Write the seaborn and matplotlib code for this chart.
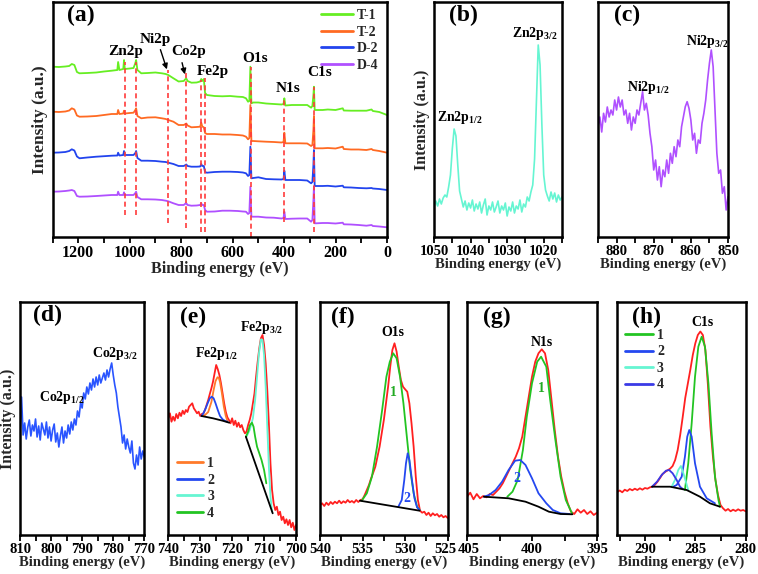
import numpy as np
import seaborn as sns
import matplotlib
matplotlib.use("Agg")
import matplotlib.pyplot as plt
from matplotlib.ticker import MultipleLocator
from matplotlib.transforms import ScaledTranslation

# ---------------- data ----------------
# (a) survey spectra, binding energy in eV, intensity in a.u. (offset stacks)
survey_be = [1300, 1275, 1250, 1235, 1225, 1215, 1205, 1195, 1165, 1130,
             1100, 1070, 1048, 1045, 1040, 1025, 1022, 1019, 1000, 985,
             978, 975, 970, 955, 930, 900, 875, 860, 850, 830,
             810, 790, 783, 780, 775, 760, 740, 726, 722, 718,
             712, 707, 700, 670, 640, 610, 580, 560, 548, 540,
             535, 531, 527, 520, 500, 470, 440, 410, 402, 399,
             395, 370, 340, 310, 295, 290, 286, 284, 281, 275,
             250, 230, 200, 172, 168, 140, 110, 80, 60, 55,
             30, 0]
t1 = [170.3, 170, 170.5, 171, 173, 172, 165, 163.7, 164, 164.5,
      165.5, 166.3, 167, 175, 167, 168, 177, 168, 168.5, 169,
      174, 177, 167, 163.7, 164, 164.5, 163.7, 163, 162, 158.7,
      155.5, 156, 158, 158.5, 156, 154.3, 154.5, 155.5, 158, 156,
      158, 144, 142, 141, 140.7, 141, 140.3, 140, 138.7, 135.3,
      136, 170.3, 133.7, 134.5, 134.5, 133.5, 133, 132.5, 133, 138.7,
      131.5, 132, 132, 132, 129.3, 131, 142, 150.3, 127, 127,
      127, 127.5, 127, 128.7, 126.5, 126.3, 126.3, 126.3, 127.5, 126,
      125, 122]
t2 = [125.3, 125, 125.5, 126.5, 128.7, 127.5, 121.5, 120.3, 120.5, 121,
      122, 123, 123, 127, 123, 123.5, 126.3, 123.5, 124, 124.3,
      127, 128.7, 121, 118.7, 119.5, 119.7, 118.7, 118, 117, 115.3,
      112, 112, 113, 113.5, 111.5, 109.7, 110, 110.3, 114.3, 110.5,
      109.7, 104, 103, 103, 102.5, 102.5, 102, 101.5, 100.3, 97.7,
      99, 132, 96, 96, 95.7, 95.3, 95, 94.5, 95, 104.3,
      93.7, 93.7, 93.7, 93.5, 91, 92, 107, 121, 88.7, 88.7,
      88.7, 89, 88.5, 90.3, 88, 87.5, 87.5, 87, 88, 87,
      86, 84.3]
d2 = [84.3, 84.5, 85, 86, 87.7, 86.5, 80.5, 78.7, 79.5, 80.3,
      80.8, 81.3, 81.5, 84.3, 81.5, 82, 86, 82, 82, 82,
      84, 86, 79, 76.3, 76.3, 76, 75.3, 75, 74.3, 73,
      71, 71, 72, 72.5, 71, 70.3, 70.3, 70.5, 73, 71,
      71, 65, 64.3, 65, 65.3, 65.3, 65, 64.5, 63.7, 61,
      62, 90.3, 58.7, 59, 59.7, 58, 57.7, 57.5, 58, 66.3,
      57, 57, 57, 56.5, 53.7, 55, 72, 87, 51, 51,
      51, 51.2, 50.5, 51.3, 49.7, 49.5, 49, 48.7, 49, 48.5,
      48, 47]
d4 = [45.3, 45.5, 46, 46.5, 47, 46, 41, 40.3, 40.5, 41,
      41.5, 42, 42, 45.3, 42, 42, 44.7, 42, 42, 42,
      44, 45.3, 40, 37.7, 37.7, 37.5, 37, 36.3, 35.7, 33.7,
      32, 32, 33.5, 33.7, 32, 31.3, 31.5, 32, 33.7, 32,
      32, 27, 25.3, 25.5, 26.3, 26.3, 26, 25.5, 25.3, 23,
      24, 50.3, 20.3, 20.3, 20.3, 19.5, 19.3, 18.5, 19, 25.3,
      18, 18.3, 18.5, 18.5, 15.3, 17, 37, 50.3, 13.7, 13.7,
      14, 14, 13.5, 14.3, 12.7, 12.5, 12, 11.3, 12, 11,
      10.5, 9.7]
samples = ["T-1", "T-2", "D-2", "D-4"]

# dashed marker lines in (a)
marker_be = [1020, 975, 852, 780, 724, 709, 530, 400, 283]
marker_top = [175, 175, 167, 164, 157, 159, 170, 139, 150]
marker_bottom = [22, 22, 14, 9, 5, 5, 0, 15, 5]
element_names = ["Zn2p", "Ni2p", "Co2p", "Fe2p", "O1s", "N1s", "C1s"]
element_be = [1014, 900, 771, 676, 514, 384, 263]
element_y = [185, 197, 185, 166, 178, 148, 164]

# (b) Zn 2p, 1050 -> 1015 eV
zn_range = (1050, 1015)
zn = [30, 36, 31, 38, 33, 39, 42, 40, 50, 62, 88, 108, 101, 72, 46, 38, 30, 36, 27, 34,
      29, 37, 26, 33, 28, 35, 24, 32, 38, 22, 31, 27, 35, 25, 30, 36, 24, 31, 27, 34,
      21, 30, 26, 35, 24, 31, 28, 37, 25, 33, 30, 40, 36, 45, 52, 78, 135, 192, 172, 112,
      62, 47, 41, 36, 45, 38, 44, 35, 42, 37, 40]

# (c) Ni 2p, 885 -> 850 eV
ni_range = (885, 850)
ni = [110.3, 120, 105, 123.7, 115, 130, 120, 127, 122, 137, 127, 140, 130, 137, 122, 127,
      113.7, 123.7, 107, 120, 113.7, 127, 122, 133.7, 145.3, 127, 133.7, 122, 103.7, 90.3,
      67, 77, 57, 70.3, 50.3, 67, 60.3, 77, 63.7, 83.7, 73.7, 90.3, 80.3, 97, 90.3, 110.3,
      120.3, 130.3, 135.3, 128.7, 117, 97, 103.7, 83.7, 97, 93.7, 113.7, 123.7, 137, 157,
      173.7, 187, 170.3, 127, 83.7, 63.7, 67, 43.7, 50.3, 27, 40.3]

# (d) Co 2p, 810 -> 770 eV
co_range = (810, 770)
co = [103, 138, 100, 112, 96, 108, 115, 99, 110, 104, 116, 98, 109, 95, 112, 106, 100, 113,
      97, 108, 94, 105, 111, 93, 102, 88, 99, 108, 92, 104, 97, 110, 101, 113, 105, 116,
      110, 124, 118, 132, 127, 142, 136, 148, 141, 152, 145, 156, 148, 158, 150, 160, 152,
      157, 162, 155, 165, 158, 166, 172, 160, 150, 142, 128, 118, 108, 92, 100, 86, 96, 88,
      82, 94, 72, 66, 80, 70, 88, 76, 84, 78]

# (e) Fe 2p, 740 -> 700 eV, with fitted components
fe_range = (740, 700)
fe = [116.7, 121.7, 113.3, 118.3, 114.3, 121, 116.7, 122.3, 119, 124.3, 121, 125, 123,
      128.3, 130, 131.7, 126.7, 124.3, 121.7, 123.3, 119, 121, 121.7, 125, 130, 135, 141,
      146.7, 153.3, 161.7, 170, 165.7, 160, 151.7, 141.7, 131.7, 123.3, 117.7, 115, 111.7,
      116.7, 110, 114.3, 108.3, 112.3, 107.7, 110, 105, 101.7, 103.3, 110, 115, 121.7,
      131.7, 141.7, 158.3, 173.3, 186.7, 196.7, 200, 190, 171.7, 145, 111.7, 71.7, 45,
      31.7, 25, 28.3, 20, 23.3, 15, 18.3, 11.7, 15.7, 10, 15, 7.7, 12.3, 5, 10]
fe1_be = [729.5, 728.5, 727.5, 726.5, 725.8, 725.2, 724.6, 724.2, 723.8, 723.2, 722.6, 722.0, 721.5]
fe1 = [119, 120, 123, 133, 145, 154, 157.7, 157.3, 153, 141.7, 128.3, 119, 114.3]
fe2_be = [729.6, 729.0, 728.3, 727.6, 727.0, 726.4, 725.8, 725.2, 724.5, 723.8, 723.0, 722.2, 721.5]
fe2 = [119, 121.7, 126.7, 132.3, 136.7, 138.3, 136.7, 131.7, 125, 119, 115.7, 114, 113.3]
fe3_be = [715.5, 714.5, 713.5, 712.8, 712.2, 711.6, 711.0, 710.5, 710.0, 709.5, 709.0, 708.5, 708.0, 707.5]
fe3 = [98.3, 105, 116.7, 135, 158.3, 181.7, 195.7, 195, 180, 148.3, 108.3, 68.3, 38.3, 23.3]
fe4_be = [715.7, 715.0, 714.4, 713.8, 713.3, 712.8, 712.2, 711.5, 710.8, 710.0, 709.3]
fe4 = [98.3, 103.3, 110, 112.3, 108.3, 98.3, 88.3, 81.7, 75, 65, 51.7]
fe_bg1_be = [729.6, 726, 723, 720.9]
fe_bg1 = [119, 116.7, 114.3, 112.3]
fe_bg2_be = [715.7, 707.3]
fe_bg2 = [98.3, 21.7]

# (f) O 1s, 540 -> 525 eV
o_range = (540, 525)
o = [30, 31.7, 29, 32.3, 30, 33, 31, 33.3, 31.7, 34.3, 31.7, 33.7, 32.3, 35, 32.7, 34,
     32.3, 35, 33, 35, 35.7, 40, 45, 50, 56.7, 62.3, 68.3, 78.3, 88.3, 101.7, 115, 131.7,
     148.3, 168.3, 185, 191.7, 183.3, 168.3, 155, 148.3, 145.7, 143.3, 131.7, 111.7, 88.3,
     58.3, 35, 24.3, 22.3, 23.3, 20, 22.3, 19, 21.7, 19.7, 21, 18.3, 20, 17.7, 19, 17]
o1_be = [535.1, 534.5, 533.9, 533.3, 532.7, 532.2, 531.8, 531.4, 531.0, 530.6, 530.2, 529.8, 529.4, 529.0, 528.6, 528.3]
o1 = [34.3, 41.7, 58.3, 88.3, 125, 158.3, 173.3, 181.7, 176.7, 158.3, 131.7, 98.3, 65, 41.7, 28.3, 25]
o2_be = [530.8, 530.4, 530.1, 529.9, 529.7, 529.5, 529.2, 528.9, 528.6, 528.3]
o2 = [28.3, 35, 55, 71.7, 81.7, 75, 55, 36.7, 27.7, 25]
o_bg_be = [535.3, 528.3]
o_bg = [34.3, 24.3]

# (g) N 1s, 405 -> 395 eV
n_range = (405, 395)
n = [38.3, 42.3, 35.7, 41, 36.7, 39, 37.7, 41, 40, 43.3, 46.7, 51.7, 58.3, 65, 71.7, 78.3,
     86.7, 98.3, 118.3, 138.3, 158.3, 173.3, 181.7, 185.7, 181.7, 165, 135, 105, 78.3,
     58.3, 43.3, 31.7, 23.3, 21, 25.7, 22.3, 25, 21, 23.7, 20, 22.3]
n1_be = [401.9, 401.5, 401.1, 400.7, 400.4, 400.0, 399.6, 399.3, 398.9, 398.6, 398.2, 397.8, 397.4, 396.9]
n1 = [38.3, 43.3, 55, 85, 118.3, 151.7, 173.3, 178.3, 168.3, 135, 95, 58.3, 35, 21]
n2_be = [403.7, 403.3, 402.8, 402.3, 401.8, 401.3, 400.9, 400.5, 400.0, 399.5, 398.9, 398.4, 397.8, 397.1]
n2 = [38.3, 40, 45, 53.3, 65, 74.3, 75, 70, 56.7, 41.7, 31.7, 25, 21.7, 21]
n_bg_be = [403.7, 401.8, 400.5, 399.5, 398.7, 397.8, 396.9]
n_bg = [38.3, 36.7, 33.3, 28.3, 23.3, 21, 20.7]

# (h) C 1s, 292.75 -> 280 eV
c_range = (292.75, 280)
c = [43, 44.5, 42.7, 45.3, 44, 46, 44.7, 46.3, 45, 46.7, 45.3, 47, 46.3, 47.7, 48.3, 50.3,
     53.3, 57, 61, 63, 64.7, 66.3, 69, 75, 85, 100, 118, 137, 151, 165, 180, 191.7, 200,
     203.5, 200, 185, 150, 108, 78, 55, 40, 30, 26.7, 24.3, 26, 23.7, 25.3, 24, 25.7,
     24.3, 25, 23.7]
c1_be = [286.03, 285.7, 285.36, 285.03, 284.7, 284.37, 284.04, 283.7, 283.38, 283.05, 282.7, 282.55]
c1 = [45, 71.7, 111.7, 158.3, 188.3, 198.3, 188.3, 151.7, 101.7, 58.3, 35, 28.3]
c2_be = [287.19, 286.85, 286.35, 286.03, 285.8, 285.6, 285.36, 285.03, 284.54, 283.87, 283.05]
c2 = [48.3, 50, 58.3, 78.3, 98.3, 105, 98.3, 71.7, 48.3, 36.7, 31.7]
c3_be = [287.35, 287.02, 286.69, 286.43, 286.13, 285.7]
c3 = [48.3, 55, 65, 69, 60, 45]
c4_be = [289.3, 288.8, 288.34, 287.91, 287.6, 287.25, 286.85, 286.52, 286.2]
c4 = [48.3, 53.3, 60, 64.3, 65, 61.7, 55, 48.3, 45.7]
c_bg_be = [289.3, 287.5, 285.86, 284.54, 283.55, 282.55]
c_bg = [48.3, 48.3, 45, 38.3, 31.7, 28.3]

# ---------------- style ----------------
sns.set_theme(style="ticks")
plt.rcParams["font.family"] = ["Liberation Serif", "DejaVu Serif"]
plt.rcParams["font.weight"] = "bold"
plt.rcParams["axes.labelweight"] = "bold"
plt.rcParams["mathtext.fontset"] = "custom"
plt.rcParams["mathtext.rm"] = "Liberation Serif:bold"
plt.rcParams["mathtext.it"] = "Liberation Serif:bold"
plt.rcParams["mathtext.bf"] = "Liberation Serif:bold"

RED = "#ff2020"
sample_colors = ["#66ee22", "#ff6a22", "#2244ee", "#b050ff"]

W, H = 758, 574
fig = plt.figure(figsize=(W / 100, H / 100), dpi=100)


def panel(left, right, top, bottom):
    return fig.add_axes([left / W, 1 - bottom / H, (right - left) / W, (bottom - top) / H])


def trace(ax, x, y, color, lw=1.3, label=None):
    sns.lineplot(x=x, y=y, ax=ax, color=color, lw=lw, estimator=None,
                 sort=False, label=label, legend=False)


def grid(rng, vals):
    return np.linspace(rng[0], rng[1], len(vals))


def dress(ax, xlim, ylim, major, minor, tick_fs=10.5, label_fs=10.5, ylabel=False):
    ax.set_xlim(xlim)
    ax.set_ylim(ylim)
    ax.xaxis.set_major_locator(MultipleLocator(major))
    ax.xaxis.set_minor_locator(MultipleLocator(minor))
    ax.set_yticks([])
    ax.tick_params(axis="x", which="both", direction="out", length=4, width=1.3,
                   labelsize=tick_fs, pad=1.5, colors="black")
    for sp in ax.spines.values():
        sp.set_visible(True)
        sp.set_linewidth(1.8)
        sp.set_color("black")
    ax.set_xlabel("Binding energy (eV)", fontsize=label_fs, labelpad=0)
    if ylabel:
        ax.set_ylabel("Intensity (a.u.)", fontsize=label_fs + 1, labelpad=3)
    else:
        ax.set_ylabel("")


def label(ax, x, y, s, fs=10, color="black"):
    ax.text(x, y, s, fontsize=fs, color=color, ha="center", va="center", fontweight="bold")


# ---------------- (a) survey ----------------
ax = panel(52.5, 387, 2, 237)
for vals, name, col in zip([t1, t2, d2, d4], samples, sample_colors):
    trace(ax, survey_be, vals, col, lw=1.3, label=name)
ax.vlines(marker_be, marker_bottom, marker_top, colors="#ff3b3b",
          linestyles=(0, (3, 2)), lw=1.2)
leg = ax.legend(loc="upper right", bbox_to_anchor=(1.0, 1.005), frameon=False, fontsize=10,
                handlelength=2.3, handletextpad=0.3, labelspacing=0.25, borderaxespad=0.2)
for ln in leg.get_lines():
    ln.set_linewidth(2)
for nm, bx, by in zip(element_names, element_be, element_y):
    label(ax, bx, by, nm, fs=11)
ax.annotate("", xy=(852, 165), xytext=(884, 190),
            arrowprops=dict(arrowstyle="-|>", color="black", lw=1, mutation_scale=8))
ax.annotate("", xy=(783, 160), xytext=(799, 177),
            arrowprops=dict(arrowstyle="-|>", color="black", lw=1, mutation_scale=8))
label(ax, 1190, 222, "(a)", fs=17)
dress(ax, (1300, 0), (0, 235), 200, 100, tick_fs=11.5, label_fs=11.5, ylabel=True)

# ---------------- (b) Zn 2p ----------------
ax = panel(434, 562, 2, 237)
trace(ax, grid(zn_range, zn), zn, "#66f5d2", lw=1.2)
label(ax, 1022.4, 204, "Zn2p$_{3/2}$")
label(ax, 1042.9, 119, "Zn2p$_{1/2}$")
label(ax, 1042, 222, "(b)", fs=17)
dress(ax, zn_range, (0, 235), 10, 5, ylabel=True)

# ---------------- (c) Ni 2p ----------------
ax = panel(598, 728, 2, 237)
trace(ax, grid(ni_range, ni), ni, "#b050ff", lw=1.2)
label(ax, 855.7, 195, "Ni2p$_{3/2}$")
label(ax, 871.5, 149, "Ni2p$_{1/2}$")
label(ax, 877.2, 222, "(c)", fs=17)
dress(ax, ni_range, (0, 235), 10, 5)

# ---------------- (d) Co 2p ----------------
ax = panel(20, 144.3, 302, 535)
trace(ax, grid(co_range, co), co, "#2a55ff", lw=1.2)
label(ax, 779.4, 182, "Co2p$_{3/2}$")
label(ax, 796.5, 137, "Co2p$_{1/2}$")
label(ax, 801.3, 220, "(d)", fs=17)
dress(ax, co_range, (0, 233), 10, 5, ylabel=True)

# ---------------- (e) Fe 2p ----------------
ax = panel(168.3, 296, 302, 535)
trace(ax, grid(fe_range, fe), fe, RED, lw=1.3)
trace(ax, fe1_be, fe1, "#ff7a2a", label="1")
trace(ax, fe2_be, fe2, "#2448f0", label="2")
trace(ax, fe3_be, fe3, "#66f5d2", label="3")
trace(ax, fe4_be, fe4, "#22c422", label="4")
trace(ax, fe_bg1_be, fe_bg1, "black")
trace(ax, fe_bg2_be, fe_bg2, "black")
leg = ax.legend(loc="lower left", bbox_to_anchor=(0.0, 0.03), frameon=False, fontsize=10,
                handlelength=1.9, handletextpad=0.3, labelspacing=0.25, borderaxespad=0.2)
for ln in leg.get_lines():
    ln.set_linewidth(2)
label(ax, 710.6, 208, "Fe2p$_{3/2}$")
label(ax, 724.7, 182, "Fe2p$_{1/2}$")
label(ax, 732.3, 218, "(e)", fs=17)
dress(ax, fe_range, (0, 233), 10, 5)

# ---------------- (f) O 1s ----------------
ax_f = ax = panel(320, 447.7, 302, 535)
trace(ax, grid(o_range, o), o, RED, lw=1.3)
trace(ax, o1_be, o1, "#22c422")
trace(ax, o2_be, o2, "#2448f0")
trace(ax, o_bg_be, o_bg, "black")
label(ax, 531.4, 202, "O1s")
label(ax, 531.4, 142, "1", color="#22aa22")
label(ax, 529.8, 37, "2", color="#2448f0")
label(ax, 537.3, 218, "(f)", fs=17)
dress(ax, o_range, (0, 233), 5, 2.5)

# ---------------- (g) N 1s ----------------
ax_g = ax = panel(467, 597, 302, 535)
trace(ax, grid(n_range, n), n, RED, lw=1.3)
trace(ax, n1_be, n1, "#22c422")
trace(ax, n2_be, n2, "#2448f0")
trace(ax, n_bg_be, n_bg, "black")
label(ax, 399.2, 193, "N1s")
label(ax, 399.3, 147, "1", color="#22aa22")
label(ax, 401.2, 57, "2", color="#2448f0")
label(ax, 402.7, 218, "(g)", fs=17)
dress(ax, n_range, (0, 233), 5, 2.5)

# ---------------- (h) C 1s ----------------
ax = panel(616.7, 745.7, 302, 535)
trace(ax, grid(c_range, c), c, RED, lw=1.3)
trace(ax, c1_be, c1, "#22c422", label="1")
trace(ax, c2_be, c2, "#2448f0", label="2")
trace(ax, c3_be, c3, "#66f5d2", label="3")
trace(ax, c4_be, c4, "#3a3ae6", label="4")
trace(ax, c_bg_be, c_bg, "black")
leg = ax.legend(loc="upper left", bbox_to_anchor=(0.0, 0.92), frameon=False, fontsize=10,
                handlelength=2.0, handletextpad=0.3, labelspacing=0.25, borderaxespad=0.2)
for ln in leg.get_lines():
    ln.set_linewidth(2)
label(ax, 284.24, 213, "C1s")
label(ax, 289.8, 218, "(h)", fs=17)
dress(ax, (292.8, 280), (0, 233), 5, 2.5)

# the "525" and "405" labels sit edge to edge in the original; nudge them apart a little
fig.canvas.draw()
for axis_, loc_, dx in [(ax_f, 525, -2.2), (ax_g, 405, 2.2)]:
    for tk in axis_.xaxis.get_major_ticks():
        if abs(tk.get_loc() - loc_) < 1e-6:
            tk.label1.set_transform(tk.label1.get_transform()
                                    + ScaledTranslation(dx / 100, 0, fig.dpi_scale_trans))

fig.savefig("out.png", dpi=100, facecolor="white")
